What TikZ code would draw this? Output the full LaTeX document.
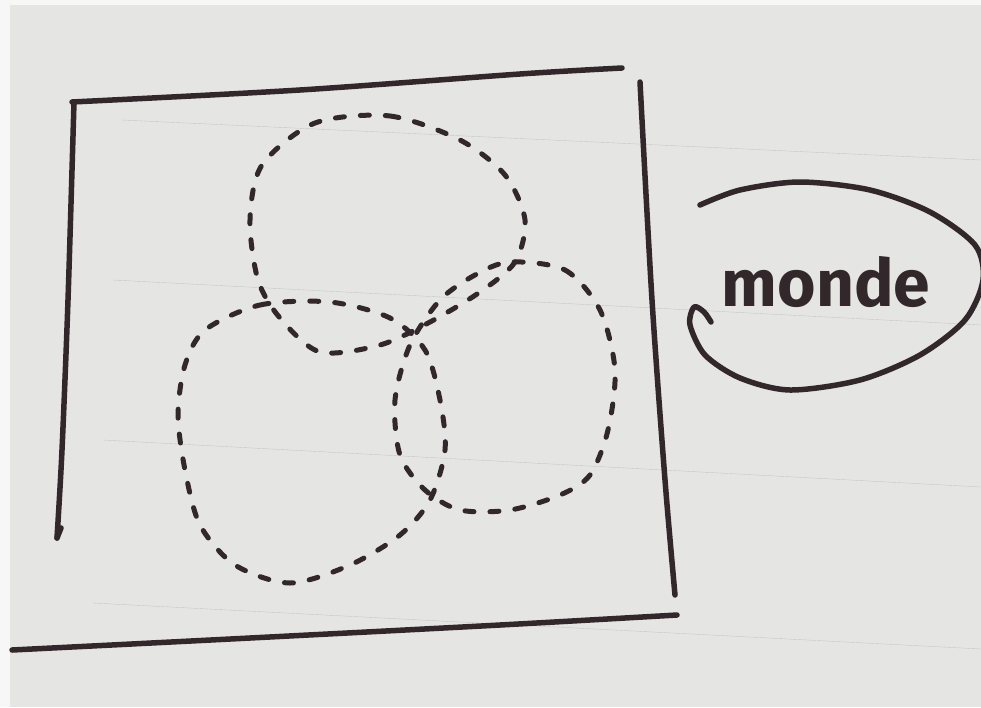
\documentclass[tikz,border=0pt]{standalone}
\usepackage{fontspec}
\usepackage{xcolor}
\usepackage{tikz}
\usetikzlibrary{calc}
\newfontfamily\handfont{Fira Sans}
\definecolor{inkdark}{RGB}{50, 40, 43}
\definecolor{paper}{RGB}{229, 229, 227}
\definecolor{ruled}{RGB}{198, 200, 202}

\begin{document}
\begin{tikzpicture}[x=1pt, y=-1pt,
    penline/.style={inkdark, line width=5.5pt, line cap=round, line join=round},
    setline/.style={inkdark, line width=5pt, line cap=round, dash pattern=on 9pt off 16pt}]
        % Paper
        \useasboundingbox (0,0) rectangle (981,707);
        \fill[gray!6] (0,0) rectangle (981,707);
        \fill[paper] (10,5) rectangle (981,707);
        \draw[ruled, thin] (122,120) -- (981,160);
        \draw[ruled, thin] (113,280) -- (981,325);
        \draw[ruled, thin] (103,440) -- (981,487);
        \draw[ruled, thin] (93,603) -- (981,649);

        % Universe box
        \draw[penline] plot [smooth] coordinates {(72,102) (300,90) (520,74) (622,68)};
        \draw[penline] plot [smooth] coordinates {(74,102) (68,300) (62,450) (57,538)};
        \draw[penline] (57,538) -- (61,528);
        \draw[penline] plot [smooth] coordinates {(640,82) (652,300) (665,480) (675,595)};
        \draw[penline] plot [smooth] coordinates {(12,650) (250,638) (500,625) (677,615)};

        % Set A (top)
        \draw[setline] plot [smooth cycle] coordinates {(315,123) (390,116) (460,140) (505,175) (525,220) (515,262) (480,292) (430,322) (380,345) (320,352) (280,318) (258,280) (250,220) (262,165)};

        % Set B (bottom left)
        \draw[setline] plot [smooth cycle] coordinates {(205,330) (260,305) (330,302) (390,318) (425,350) (440,400) (445,450) (430,500) (400,535) (350,565) (290,583) (235,565) (200,525) (185,470) (178,415) (185,365)};

        % Set C (bottom right)
        \draw[setline] plot [smooth cycle] coordinates {(510,262) (565,270) (600,310) (615,370) (608,430) (590,475) (560,495) (510,510) (460,510) (425,490) (400,455) (395,400) (410,345) (440,300) (475,275)};

        % Label
        \draw[penline] plot [smooth] coordinates {(700,205) (740,190) (800,182) (870,190) (930,212) (975,245) (983,280) (965,320) (920,355) (860,380) (790,390) (740,378) (705,355) (690,325) (694,307) (704,312) (711,322)};
        \node[inkdark, font=\handfont\bfseries\fontsize{66}{66}\selectfont] (monde) at (826,282) {monde};
    \end{tikzpicture}
\end{document}
